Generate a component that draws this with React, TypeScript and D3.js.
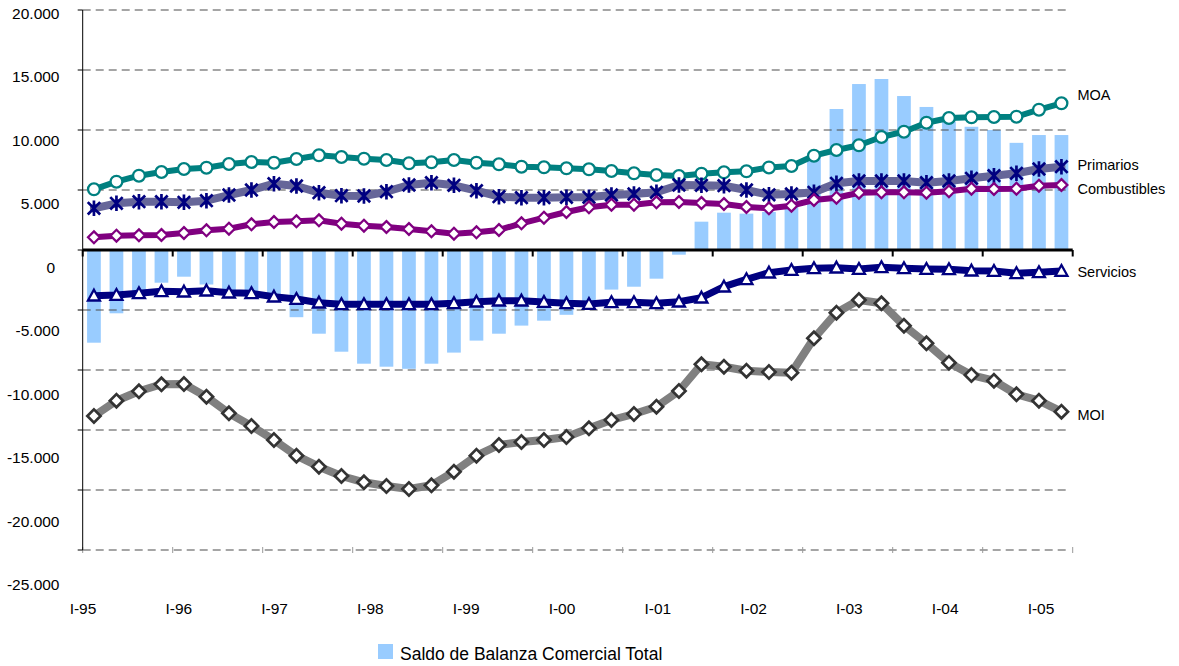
import React from 'react';
import * as d3 from 'd3';

const years = ['95', '96', '97', '98', '99', '00', '01', '02', '03', '04', '05'];
const quarterNames = ['I', 'II', 'III', 'IV'];
const categories = years.flatMap((y) => quarterNames.map((q) => `${q}-${y}`));

const saldoTotal = [
  -7725, -5275, -3600, -2725, -2225, -2875, -3400, -3500, -3800, -5600, -6975, -8475, -9475, -9725,
  -9900, -9475, -8550, -7550, -6975, -6300, -5890, -5400, -4650, -3300, -3060, -2390, -390,
  2360, 3110, 3030, 3170, 3650, 8050, 11750, 13830, 14250, 12830, 11920, 10700, 10270, 10000, 8930, 9580, 9580,
];
const moa = [
  5058, 5692, 6192, 6500, 6750, 6858, 7167, 7333, 7275, 7583, 7892, 7750, 7608, 7500,
  7225, 7308, 7500, 7275, 7142, 6942, 6892, 6808, 6725, 6583, 6392, 6250, 6167, 6358, 6475, 6558, 6880,
  7000, 7858, 8333, 8725, 9417, 9858, 10608, 11000, 11058, 11083, 11108, 11692, 12225,
];
const primarios = [
  3475, 3892, 4025, 4025, 3975, 4108, 4583, 5000, 5525, 5333, 4775, 4525, 4500, 4858,
  5417, 5608, 5392, 4942, 4442, 4358, 4358, 4392, 4392, 4583, 4667, 4808, 5417, 5392, 5358, 5000, 4600,
  4667, 4808, 5558, 5750, 5750, 5750, 5608, 5750, 5975, 6192, 6392, 6750, 6942,
];
const combustibles = [
  1058, 1192, 1225, 1250, 1417, 1642, 1775, 2142, 2333, 2392, 2475, 2192, 2025, 1917,
  1750, 1558, 1358, 1475, 1667, 2225, 2692, 3167, 3558, 3775, 3775, 3975, 4000, 3917, 3833, 3583, 3475,
  3692, 4167, 4358, 4775, 4808, 4808, 4775, 4892, 5108, 5083, 5108, 5358, 5417,
];
const servicios = [
  -3808, -3750, -3608, -3442, -3475, -3392, -3558, -3608, -3892, -4083, -4392, -4525, -4525, -4525,
  -4525, -4525, -4442, -4308, -4225, -4225, -4333, -4442, -4500, -4358, -4358, -4442, -4308, -3975, -3058, -2442, -1892,
  -1667, -1525, -1475, -1583, -1442, -1525, -1583, -1608, -1725, -1750, -1942, -1858, -1750,
];
const moi = [
  -13833, -12558, -11775, -11192, -11167, -12225, -13608, -14667, -15833, -17142, -18058, -18833, -19358, -19667,
  -19917, -19608, -18475, -17142, -16250, -16000, -15833, -15583, -14858, -14167, -13667, -13058, -11750, -9525, -9725, -10058, -10167,
  -10225, -7358, -5225, -4167, -4442, -6308, -7775, -9392, -10417, -10892, -12025, -12558, -13475,
];

const yTicks = [20000, 15000, 10000, 5000, 0, -5000, -10000, -15000, -20000, -25000];
const xTickLabels = categories.filter((c) => c.startsWith('I-'));
const legendLabel = 'Saldo de Balanza Comercial Total';

const FONT = 'Liberation Sans, Arial, sans-serif';
const W = 1179;
const H = 666;

const locale = d3.formatLocale({ decimal: ',', thousands: '.', grouping: [3], currency: ['', ''], minus: '-' });
const fmt = locale.format(',d');

type Marker = 'circle' | 'asterisk' | 'diamond' | 'triangle' | 'bigdiamond';

const seriesDefs: { name: string; values: number[]; line: string; lineWidth: number; marker: Marker; mstroke: string; labelDy: number }[] = [
  { name: 'MOI', values: moi, line: '#808080', lineWidth: 8, marker: 'bigdiamond', mstroke: '#333333', labelDy: 3 },
  { name: 'Servicios', values: servicios, line: '#000080', lineWidth: 7, marker: 'triangle', mstroke: '#000080', labelDy: 1 },
  { name: 'MOA', values: moa, line: '#008080', lineWidth: 6, marker: 'circle', mstroke: '#008080', labelDy: -8 },
  { name: 'Primarios', values: primarios, line: '#666699', lineWidth: 8, marker: 'asterisk', mstroke: '#000080', labelDy: -1.5 },
  { name: 'Combustibles', values: combustibles, line: '#800080', lineWidth: 6, marker: 'diamond', mstroke: '#800080', labelDy: 4 },
];

function MarkerShape({ type, x, y, stroke }: { type: Marker; x: number; y: number; stroke: string }) {
  if (type === 'circle') return <circle cx={x} cy={y} r={5.9} fill="#fff" stroke={stroke} strokeWidth={2.3} />;
  if (type === 'asterisk') {
    const s = 6.2;
    return (
      <path
        d={`M${x - s},${y - s}L${x + s},${y + s}M${x + s},${y - s}L${x - s},${y + s}M${x},${y - s - 1.5}L${x},${y + s + 1.5}`}
        stroke={stroke}
        strokeWidth={2.7}
        fill="none"
      />
    );
  }
  if (type === 'diamond') {
    const s = 5.9;
    return <path d={`M${x},${y - s}L${x + s},${y}L${x},${y + s}L${x - s},${y}Z`} fill="#fff" stroke={stroke} strokeWidth={2.3} />;
  }
  if (type === 'bigdiamond') {
    const s = 6.6;
    return <path d={`M${x},${y - s}L${x + s},${y}L${x},${y + s}L${x - s},${y}Z`} fill="#fff" stroke={stroke} strokeWidth={2.7} />;
  }
  const s = 6;
  return <path d={`M${x},${y - s}L${x + s},${y + s * 0.8}L${x - s},${y + s * 0.8}Z`} fill="#fff" stroke={stroke} strokeWidth={2.3} />;
}

export default function App() {
  const left = 82.7;
  const right = 1072.7;
  const x = d3.scaleBand<string>().domain(categories).range([left, right]).padding(0);
  const cx = (c: string) => (x(c) as number) + x.bandwidth() / 2;
  const y = d3.scaleLinear().domain([-25000, 20000]).range([550, 10]);
  const yLabel = d3.scaleLinear().domain([-25000, 20000]).range([590, 19]);
  const xLabel = d3.scaleLinear().domain([0, xTickLabels.length - 1]).range([83, 1041]);
  const barW = x.bandwidth() * 0.61;
  const gridRight = 1068;

  const yearBoundaries = d3.range(0, categories.length + 1, 4).map((i) => left + i * x.step());

  const lineGen = d3
    .line<number>()
    .x((_, i) => cx(categories[i]))
    .y((d) => y(d));

  return (
    <svg width={W} height={H} style={{ position: 'absolute', left: 0, top: 0, background: '#fff' }} fontFamily={FONT}>
      {saldoTotal.map((v, i) => (
        <rect
          key={'b' + i}
          x={cx(categories[i]) - barW / 2}
          y={Math.min(y(v), y(0))}
          width={barW}
          height={Math.abs(y(v) - y(0))}
          fill="#99CCFF"
        />
      ))}
      {yTicks
        .filter((t) => t !== 0)
        .map((t) => (
          <line key={'g' + t} x1={left} x2={gridRight} y1={y(t)} y2={y(t)} stroke="#4d4d4d" strokeWidth={1.1} strokeDasharray="8,5" />
        ))}
      {yearBoundaries.map((bx, i) => (
        <line key={'bt' + i} x1={bx} x2={bx} y1={y(-25000) - 3} y2={y(-25000) + 3} stroke="#999" strokeWidth={1} />
      ))}
      <line x1={left} x2={left} y1={y(20000)} y2={y(-25000)} stroke="#000" strokeWidth={1} />
      {yTicks.map((t) => (
        <line key={'lt' + t} x1={left - 5} x2={left} y1={y(t)} y2={y(t)} stroke="#000" strokeWidth={1} />
      ))}
      <line x1={left} x2={right} y1={y(0)} y2={y(0)} stroke="#000" strokeWidth={3} />
      {yearBoundaries.map((bx, i) => (
        <line key={'ct' + i} x1={bx} x2={bx} y1={y(0)} y2={y(0) + 6.5} stroke="#000" strokeWidth={2} />
      ))}
      {yTicks.map((t) => (
        <text key={'yl' + t} x={t === 0 ? 55 : 59.5} y={yLabel(t)} textAnchor="end" fontSize={15.5} fill="#000">
          {fmt(t)}
        </text>
      ))}
      {xTickLabels.map((l, i) => (
        <text key={'xl' + l} x={xLabel(i)} y={614} textAnchor="middle" fontSize={15.5} fill="#000">
          {l}
        </text>
      ))}
      {seriesDefs.map((s) => (
        <g key={s.name}>
          <path d={lineGen(s.values) || ''} fill="none" stroke={s.line} strokeWidth={s.lineWidth} strokeLinejoin="round" strokeLinecap="round" />
          {s.values.map((v, i) => (
            <MarkerShape key={i} type={s.marker} x={cx(categories[i])} y={y(v)} stroke={s.mstroke} />
          ))}
          <text
            x={cx(categories[categories.length - 1]) + 16}
            y={y(s.values[s.values.length - 1]) + s.labelDy + 5}
            fontSize={14.5}
            fill="#000"
          >
            {s.name}
          </text>
        </g>
      ))}
      <rect x={378} y={644} width={15} height={15} fill="#99CCFF" />
      <text x={400} y={660} fontSize={17.5} fill="#000">
        {legendLabel}
      </text>
    </svg>
  );
}
